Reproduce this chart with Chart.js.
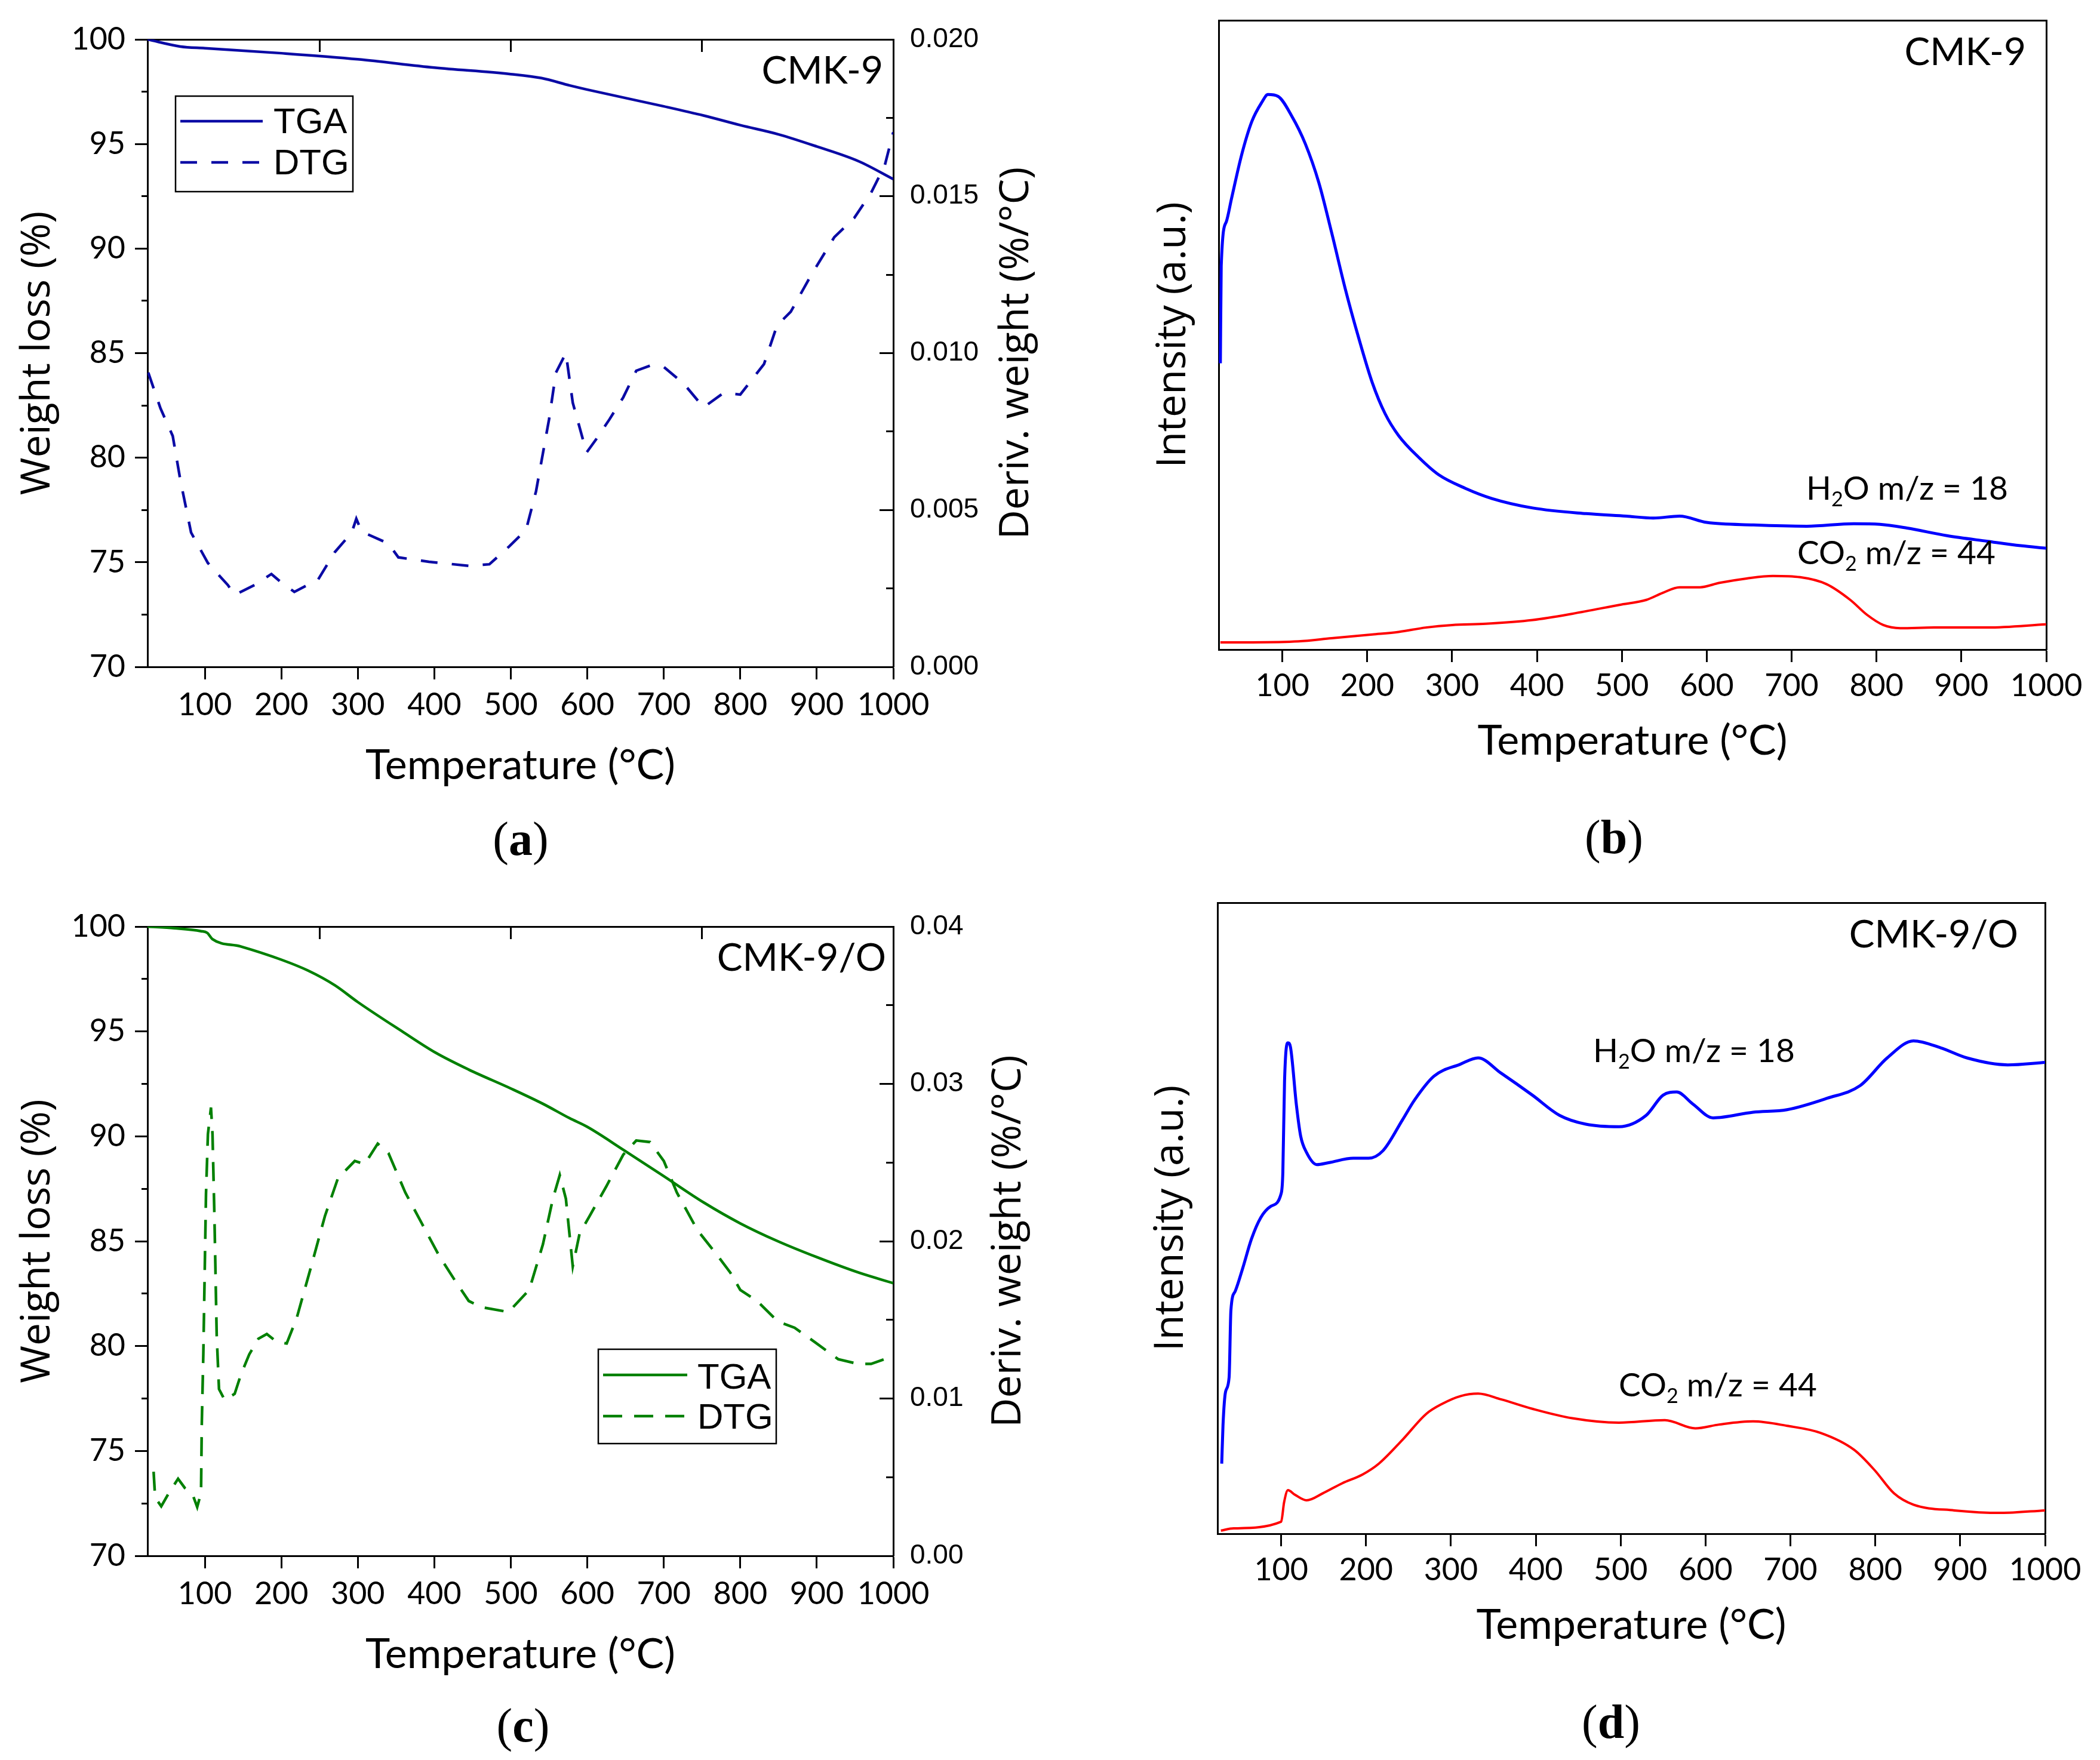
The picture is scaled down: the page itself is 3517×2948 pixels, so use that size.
<!DOCTYPE html>
<html>
<head>
<meta charset="utf-8">
<script src="https://cdn.jsdelivr.net/npm/chart.js@4/dist/chart.umd.min.js"></script>
<style>
html, body { margin: 0; padding: 0; background: #fff; }
#page { position: relative; width: 3517px; height: 2948px; overflow: hidden; background: #fff; }
canvas { position: absolute; }
.tag { position: absolute; font-family: "Liberation Serif", serif; font-size: 80px; line-height: 1; transform: translate(-50%, -50%); color: #000; }
</style>
</head>
<body>
<div id="page">
  <canvas id="chartA" width="1760" height="1450" style="left:0px;top:0px"></canvas>
  <canvas id="chartB" width="1757" height="1450" style="left:1760px;top:0px"></canvas>
  <canvas id="chartC" width="1760" height="1498" style="left:0px;top:1450px"></canvas>
  <canvas id="chartD" width="1757" height="1498" style="left:1760px;top:1450px"></canvas>
  <div class="tag" style="left:872px;top:1405px">(<b>a</b>)</div>
  <div class="tag" style="left:2703px;top:1402px">(<b>b</b>)</div>
  <div class="tag" style="left:876px;top:2890px">(<b>c</b>)</div>
  <div class="tag" style="left:2698px;top:2884px">(<b>d</b>)</div>
</div>
<script>
// temperature ticks shared by all four panels
const tempTicks = [100, 200, 300, 400, 500, 600, 700, 800, 900, 1000];
const topTicks = [250, 500, 750];
const weightTicks = [70, 75, 80, 85, 90, 95, 100];
const weightMinor = [72.5, 77.5, 82.5, 87.5, 92.5, 97.5];

// (a) CMK-9 TGA / DTG
const aTgaT = [25, 68, 100, 200, 300, 400, 500, 540, 577, 600, 700, 752, 800, 850, 900, 955, 1000];
const aTga = [100, 99.66, 99.58, 99.34, 99.05, 98.65, 98.34, 98.15, 97.8, 97.6, 96.8, 96.36, 95.9, 95.46, 94.88, 94.17, 93.32];
const aDtgT = [26, 42, 58, 68, 82, 104, 130, 139, 165, 187, 200, 217, 248, 270, 292, 298, 305, 340, 353, 393, 445, 472, 498, 520, 533, 550, 559, 572, 581, 599, 612, 629, 647, 664, 682, 700, 726, 752, 778, 800, 831, 848, 866, 892, 923, 949, 971, 989, 1000];
const aDtg = [0.00938, 0.00824, 0.00736, 0.00595, 0.00428, 0.00331, 0.00261, 0.00229, 0.00261, 0.00296, 0.00269, 0.00239, 0.00278, 0.00366, 0.00428, 0.00472, 0.00431, 0.00393, 0.00349, 0.00335, 0.00322, 0.00327, 0.00384, 0.00437, 0.0056, 0.00789, 0.00938, 0.01, 0.00842, 0.00683, 0.00727, 0.00789, 0.00859, 0.00944, 0.0096, 0.00956, 0.00903, 0.00827, 0.00873, 0.00868, 0.00965, 0.01088, 0.01132, 0.01246, 0.0137, 0.01431, 0.01511, 0.01599, 0.01704];
const aDerivTicks = [0, 0.005, 0.01, 0.015, 0.02];
const aDerivMinor = [0.0025, 0.0075, 0.0125, 0.0175];

// (c) CMK-9/O TGA / DTG
const cTgaT = [25, 60, 95, 103, 110, 147, 200, 235, 270, 300, 358, 401, 445, 500, 542, 577, 600, 647, 700, 752, 800, 849, 900, 955, 1000];
const cTga = [100, 99.92, 99.78, 99.7, 99.4, 99.05, 98.42, 97.9, 97.2, 96.4, 95.0, 94.0, 93.18, 92.28, 91.55, 90.86, 90.45, 89.36, 88.1, 86.85, 85.85, 85.0, 84.24, 83.5, 83.0];
const cDtgT = [33, 35, 43, 53, 65, 74, 84, 90, 95, 96, 98, 100, 101.5, 104, 108, 110, 112.5, 115.5, 118.5, 126, 139, 147, 158, 170, 181, 194, 207, 220, 239, 257, 274, 296, 309, 326, 340, 362, 384, 406, 427, 445, 462, 497, 524, 542, 555, 564, 572, 581, 590, 603, 625, 647, 664, 682, 700, 717, 744, 770, 787, 800, 822, 849, 871, 897, 928, 954, 971, 1000];
const cDtg = [0.00535, 0.0037, 0.00315, 0.004, 0.0049, 0.0043, 0.0039, 0.0031, 0.004, 0.0084, 0.0128, 0.0186, 0.023, 0.0268, 0.0285, 0.0268, 0.0216, 0.014, 0.0106, 0.0099, 0.0103, 0.0115, 0.0128, 0.0138, 0.0141, 0.0136, 0.0135, 0.0151, 0.0184, 0.0216, 0.024, 0.0251, 0.0249, 0.0262, 0.0256, 0.0231, 0.0211, 0.0191, 0.0175, 0.0162, 0.0158, 0.0155, 0.0169, 0.0198, 0.0227, 0.0242, 0.0227, 0.0184, 0.0205, 0.0216, 0.0235, 0.0255, 0.0264, 0.0263, 0.0251, 0.0231, 0.0207, 0.0191, 0.018, 0.0169, 0.0162, 0.0149, 0.0145, 0.0136, 0.0125, 0.0122, 0.0122, 0.0127];
const cDerivTicks = [0, 0.01, 0.02, 0.03, 0.04];
const cDerivMinor = [0.005, 0.015, 0.025, 0.035];

// (b) CMK-9 MS signals, arbitrary units 0-100
const bH2oT = [27, 28, 34, 40, 52, 64, 76, 83, 95, 111, 127, 143, 158, 174, 190, 206, 221, 237, 261, 284, 316, 347, 395, 458, 505, 537, 568, 600, 655, 718, 773, 804, 836, 883, 931, 970, 1000];
const bH2o = [45.5, 61, 68, 71.6, 78.6, 83.9, 87, 88.2, 87.9, 84.8, 80.4, 74.2, 66.3, 57.4, 49.5, 42.4, 37.5, 34, 30.5, 27.8, 25.6, 24, 22.5, 21.6, 21.2, 20.9, 21.2, 20.2, 19.8, 19.6, 20.0, 19.9, 19.3, 18.1, 17.2, 16.5, 16.1];
const bCo2T = [27, 64, 119, 158, 206, 237, 269, 300, 340, 395, 442, 497, 529, 548, 568, 592, 615, 647, 678, 710, 741, 769, 789, 808, 828, 868, 931, 1000];
const bCo2 = [1.15, 1.15, 1.3, 1.8, 2.4, 2.8, 3.5, 3.9, 4.1, 4.7, 5.7, 7.1, 7.9, 9.0, 9.9, 9.9, 10.6, 11.3, 11.7, 11.5, 10.4, 7.9, 5.5, 3.9, 3.4, 3.5, 3.5, 4.0];

// (d) CMK-9/O MS signals
const dH2oT = [30, 31.5, 34.5, 38.7, 40.8, 45.8, 55, 65, 76, 88, 100, 102, 104, 108, 111, 118, 123, 130, 142, 156, 185, 203, 220, 243, 257, 280, 311, 332, 359, 396, 428, 459, 498, 530, 550, 566, 585, 609, 656, 696, 743, 782, 814, 845, 877, 908, 956, 1000];
const dH2o = [11.1, 17.2, 22.5, 24.8, 35.4, 38.4, 42.2, 46.7, 50.1, 51.9, 53.9, 57.3, 71.7, 77.8, 77.1, 67.9, 63, 60.4, 58.5, 58.8, 59.5, 59.5, 60.7, 65.6, 68.7, 72.5, 74.4, 75.4, 73, 69.5, 66.3, 64.9, 64.5, 66.3, 69.5, 70, 68.1, 65.9, 66.8, 67.2, 69, 71, 75.4, 78.1, 77, 75.4, 74.3, 74.7];
const dCo2T = [29, 44, 100, 103.5, 108, 116, 130, 149, 172, 196, 215, 243, 271, 290, 311, 332, 359, 396, 443, 498, 552, 588, 616, 656, 696, 735, 775, 799, 822, 845, 893, 948, 1000];
const dCo2 = [0.5, 0.85, 1.9, 5.0, 6.9, 6.2, 5.3, 6.4, 8.0, 9.4, 11.1, 14.9, 19, 20.6, 21.8, 22.2, 21.3, 19.8, 18.3, 17.6, 18.0, 16.7, 17.3, 17.8, 17.1, 16.0, 13.3, 10.1, 6.4, 4.6, 3.7, 3.3, 3.7];

const tickFont = { family: 'Lato', size: 52 };
const derivFont = { family: 'Liberation Sans', size: 46 };
const xTitleFont = { family: 'Lato', size: 70 };
const yTitleFont = { family: 'Open Sans', size: 68 };

function pairs(xs, ys) {
    return xs.map((x, i) => ({ x: x, y: ys[i] }));
}
function setTicks(list) {
    return s => { s.ticks = list.map(v => ({ value: v })); };
}

// draws the text pieces (sample names, gas labels), the right-hand title and the boxed legend
function notesPlugin(p) {
    return {
        id: 'notes',
        afterDraw(chart) {
            const ctx = chart.ctx;
            const area = chart.chartArea;
            ctx.save();
            ctx.fillStyle = '#000';
            ctx.textBaseline = 'alphabetic';
            (p.texts || []).forEach(t => {
                let x = t.x;
                if (t.align === 'right') {
                    let w = 0;
                    t.parts.forEach(pt => {
                        ctx.font = (pt[1] ? t.size * 0.62 : t.size) + 'px Lato';
                        w += ctx.measureText(pt[0]).width;
                    });
                    x -= w;
                }
                t.parts.forEach(pt => {
                    const sub = pt[1];
                    ctx.font = (sub ? t.size * 0.62 : t.size) + 'px Lato';
                    ctx.fillText(pt[0], x, t.y + (sub ? t.size * 0.2 : 0));
                    x += ctx.measureText(pt[0]).width;
                });
            });
            if (p.rightTitle) {
                ctx.save();
                ctx.translate(p.rightTitleX, (area.top + area.bottom) / 2);
                ctx.rotate(-Math.PI / 2);
                ctx.font = yTitleFont.size + 'px "' + yTitleFont.family + '"';
                ctx.textAlign = 'center';
                ctx.textBaseline = 'middle';
                ctx.fillText(p.rightTitle, 0, 0);
                ctx.restore();
            }
            if (p.legend) {
                const L = p.legend;
                ctx.strokeStyle = '#000';
                ctx.lineWidth = 2.5;
                ctx.strokeRect(L.x, L.y, L.w, L.h);
                chart.data.datasets.forEach((ds, i) => {
                    const y = L.rows[i];
                    ctx.beginPath();
                    ctx.strokeStyle = ds.borderColor;
                    ctx.lineWidth = ds.borderWidth;
                    ctx.setLineDash(ds.borderDash || []);
                    ctx.moveTo(L.x1, y);
                    ctx.lineTo(L.x2, y);
                    ctx.stroke();
                    ctx.setLineDash([]);
                    ctx.fillStyle = '#000';
                    ctx.font = '60px "Liberation Sans"';
                    ctx.fillText(ds.label, L.tx, L.base[i]);
                });
            }
            ctx.restore();
        }
    };
}

function axisBase() {
    return {
        type: 'linear',
        grid: { drawOnChartArea: false, tickLength: 21, tickWidth: 3, tickColor: '#000' },
        border: { color: '#000', width: 3 }
    };
}

// zero-width axis used only for its tick marks (inward or short minor ticks)
function markAxis(position, min, max, list, len) {
    return Object.assign(axisBase(), {
        position: position, weight: -1, min: min, max: max,
        afterBuildTicks: setTicks(list),
        afterFit: s => { if (s.isHorizontal()) s.height = 0; else s.width = 0; },
        ticks: { display: false },
        grid: { drawOnChartArea: false, tickLength: len, tickWidth: 3, tickColor: '#000' },
        border: { display: false }
    });
}

function tempAxes(p) {
    const scales = {
        x: Object.assign(axisBase(), {
            position: 'bottom', min: 25, max: 1000,
            afterBuildTicks: setTicks(tempTicks),
            afterFit: s => { s.height = p.xH; },
            ticks: { font: tickFont, color: '#000', padding: p.xPad, autoSkip: false, maxRotation: 0, callback: v => String(v) },
            title: { display: true, text: 'Temperature (°C)', font: xTitleFont, color: '#000', padding: { top: 0, bottom: p.xTitlePad } }
        }),
        xTop: Object.assign(axisBase(), {
            position: 'top', min: 25, max: 1000,
            afterFit: s => { s.height = p.T; },
            ticks: { display: false },
            grid: { drawOnChartArea: false, drawTicks: false }
        })
    };
    if (p.topMarks) scales.xTopMarks = markAxis('top', 25, 1000, p.topMarks, -21);
    return scales;
}

function tgaChart(id, p) {
    const scales = tempAxes(p);
    scales.y = Object.assign(axisBase(), {
        position: 'left', min: 70, max: 100,
        afterBuildTicks: setTicks(weightTicks),
        afterFit: s => { s.width = p.L; },
        ticks: { font: tickFont, color: '#000', padding: 16 },
        title: { display: true, text: 'Weight loss (%)', font: yTitleFont, color: '#000', padding: { top: 23, bottom: 0 } }
    });
    scales.yMinor = markAxis('left', 70, 100, weightMinor, 10);
    scales.y2 = Object.assign(axisBase(), {
        position: 'right', min: 0, max: p.dMax,
        afterBuildTicks: setTicks(p.dTicks),
        afterFit: s => { s.width = p.W - p.R; },
        ticks: { font: derivFont, color: '#000', padding: 28, callback: v => v.toFixed(p.dDigits) },
        grid: { drawOnChartArea: false, drawTicks: false }
    });
    scales.y2Major = markAxis('right', 0, p.dMax, p.dTicks, -23);
    scales.y2Minor = markAxis('right', 0, p.dMax, p.dMinor, -12);
    return new Chart(document.getElementById(id), {
        type: 'line',
        data: {
            datasets: [
                { label: 'TGA', data: pairs(p.tgaT, p.tga), yAxisID: 'y', borderColor: p.color, borderWidth: 4.5, pointRadius: 0, cubicInterpolationMode: 'monotone' },
                { label: 'DTG', data: pairs(p.dtgT, p.dtg), yAxisID: 'y2', borderColor: p.color, borderWidth: 4.5, borderDash: p.dash, pointRadius: 0, tension: 0 }
            ]
        },
        options: {
            responsive: false, animation: false, devicePixelRatio: 1,
            layout: { padding: 0 },
            plugins: { legend: { display: false }, tooltip: { enabled: false } },
            scales: scales
        },
        plugins: [notesPlugin(p)]
    });
}

function msChart(id, p) {
    const scales = tempAxes(p);
    scales.y = Object.assign(axisBase(), {
        position: 'left', min: 0, max: 100,
        afterFit: s => { s.width = p.L; },
        ticks: { display: false },
        grid: { drawOnChartArea: false, drawTicks: false },
        title: { display: true, text: 'Intensity (a.u.)', font: yTitleFont, color: '#000', padding: { top: p.yTitlePad, bottom: 0 } }
    });
    scales.y2 = Object.assign(axisBase(), {
        position: 'right', min: 0, max: 100,
        afterFit: s => { s.width = p.W - p.R; },
        ticks: { display: false },
        grid: { drawOnChartArea: false, drawTicks: false }
    });
    return new Chart(document.getElementById(id), {
        type: 'line',
        data: {
            datasets: [
                { label: 'H2O', data: pairs(p.h2oT, p.h2o), yAxisID: 'y', borderColor: '#0000ff', borderWidth: 5, pointRadius: 0, cubicInterpolationMode: 'monotone' },
                { label: 'CO2', data: pairs(p.co2T, p.co2), yAxisID: 'y', borderColor: '#ff0000', borderWidth: 4, pointRadius: 0, cubicInterpolationMode: 'monotone' }
            ]
        },
        options: {
            responsive: false, animation: false, devicePixelRatio: 1,
            layout: { padding: 0 },
            plugins: { legend: { display: false }, tooltip: { enabled: false } },
            scales: scales
        },
        plugins: [notesPlugin(p)]
    });
}

tgaChart('chartA', {
    W: 1760, L: 247, R: 1496, T: 66, xH: 333, xPad: 12, xTitlePad: 126,
    topMarks: topTicks, color: '#0a0aa5', dash: [28, 24],
    tgaT: aTgaT, tga: aTga, dtgT: aDtgT, dtg: aDtg,
    dMax: 0.02, dTicks: aDerivTicks, dMinor: aDerivMinor, dDigits: 3,
    rightTitle: 'Deriv. weight (%/°C)', rightTitleX: 1703,
    texts: [{ x: 1479, y: 140, size: 64, align: 'right', parts: [['CMK-9']] }],
    legend: { x: 294, y: 161, w: 297, h: 160, x1: 302, x2: 440, rows: [203, 272], tx: 458, base: [223, 292] }
});

msChart('chartB', {
    W: 1757, L: 281, R: 1667, T: 34, xH: 362, xPad: 9, xTitlePad: 167, yTitlePad: 165,
    h2oT: bH2oT, h2o: bH2o, co2T: bCo2T, co2: bCo2,
    texts: [
        { x: 1633, y: 109, size: 64, align: 'right', parts: [['CMK-9']] },
        { x: 1265, y: 837, size: 55, parts: [['H'], ['2', true], ['O m/z = 18']] },
        { x: 1250, y: 945, size: 55, parts: [['CO'], ['2', true], [' m/z = 44']] }
    ]
});

tgaChart('chartC', {
    W: 1760, L: 247, R: 1496, T: 102, xH: 342, xPad: 12, xTitlePad: 135,
    topMarks: topTicks, color: '#008000', dash: [32, 20],
    tgaT: cTgaT, tga: cTga, dtgT: cDtgT, dtg: cDtg,
    dMax: 0.04, dTicks: cDerivTicks, dMinor: cDerivMinor, dDigits: 2,
    rightTitle: 'Deriv. weight (%/°C)', rightTitleX: 1690,
    texts: [{ x: 1484, y: 176, size: 64, align: 'right', parts: [['CMK-9/O']] }],
    legend: { x: 1002, y: 810, w: 298, h: 158, x1: 1010, x2: 1151, rows: [853, 922], tx: 1168, base: [876, 943] }
});

msChart('chartD', {
    W: 1757, L: 279, R: 1665, T: 62, xH: 379, xPad: 9, xTitlePad: 184, yTitlePad: 161,
    h2oT: dH2oT, h2o: dH2o, co2T: dCo2T, co2: dCo2,
    texts: [
        { x: 1620, y: 137, size: 64, align: 'right', parts: [['CMK-9/O']] },
        { x: 908, y: 329, size: 55, parts: [['H'], ['2', true], ['O m/z = 18']] },
        { x: 951, y: 889, size: 55, parts: [['CO'], ['2', true], [' m/z = 44']] }
    ]
});
</script>
</body>
</html>
